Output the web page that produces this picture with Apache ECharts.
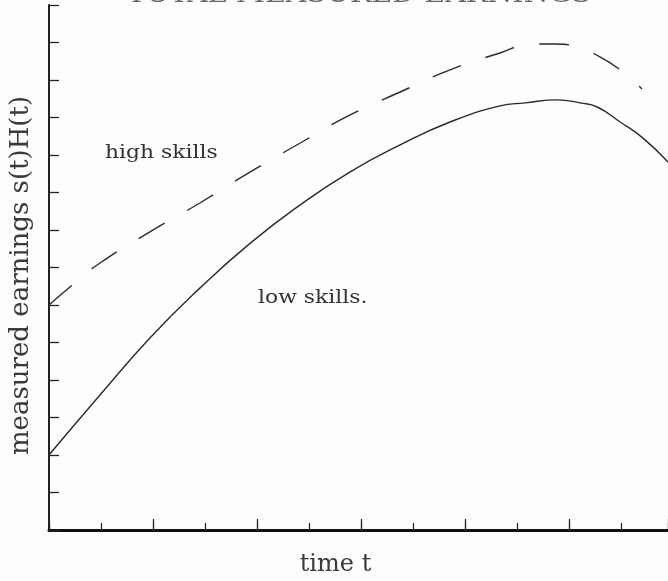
<!DOCTYPE html>
<html>
<head>
<meta charset="utf-8">
<script src="https://cdn.jsdelivr.net/npm/echarts@6/dist/echarts.min.js"></script>
<style>html,body{margin:0;padding:0;background:#fdfdfb;}#c{width:668px;height:581px;}</style>
</head>
<body>
<div id="c"></div>
<script>
// time values (in tick units) and measured earnings (in y-tick units)
var highT = [0, 0.5, 0.98, 1.94, 2.90, 3.87, 4.83, 5.79, 6.75, 7.71, 8.67, 9.29, 9.73, 10.15, 10.56, 10.98, 11.40];
var highSkills = [6.0, 6.59, 7.12, 7.95, 8.72, 9.55, 10.32, 11.07, 11.68, 12.27, 12.72, 12.96, 12.96, 12.88, 12.64, 12.27, 11.76];
var lowT = [0, 0.98, 1.94, 2.90, 3.87, 4.83, 5.79, 6.75, 7.71, 8.67, 9.15, 9.77, 10.21, 10.54, 10.98, 11.42, 11.9];
var lowSkills = [2.0, 3.6, 5.12, 6.45, 7.65, 8.67, 9.55, 10.27, 10.88, 11.31, 11.39, 11.47, 11.39, 11.28, 10.88, 10.45, 9.81];
var titleText = 'TOTAL MEASURED EARNINGS';
var yName = 'measured earnings s(t)H(t)';
var xName = 'time t';
var labelHigh = 'high skills';
var labelLow = 'low skills.';

function pairs(xs, ys) { return xs.map(function (x, i) { return [x, ys[i]]; }); }

var chart = echarts.init(document.getElementById('c'));
var serif = '"DejaVu Serif", "Liberation Serif", serif';
var ink = '#2a2a2a';
chart.setOption({
  backgroundColor: '#fdfdfb',
  animation: false,
  grid: { left: 49, right: 0, top: 5, bottom: 51, containLabel: false, outerBoundsMode: 'none' },
  xAxis: [{
    type: 'value', min: 0, max: 11.9, interval: 1,
    name: xName, nameLocation: 'middle', nameGap: 23,
    nameTextStyle: { fontFamily: serif, fontSize: 24, color: '#3a3a3a', padding: [0, 46, 0, 0] },
    axisLine: { lineStyle: { color: '#111', width: 3 } },
    axisTick: { inside: true, length: 7, lineStyle: { color: '#222', width: 1.2 } },
    axisLabel: { show: false },
    splitLine: { show: false }
  }, {
    type: 'value', min: 0, max: 11.9, interval: 2, position: 'bottom',
    axisLine: { show: false },
    axisTick: { inside: true, length: 11, lineStyle: { color: '#222', width: 1.2 } },
    axisLabel: { show: false },
    splitLine: { show: false }
  }],
  yAxis: {
    type: 'value', min: 0, max: 14, interval: 1,
    name: yName, nameLocation: 'middle', nameGap: 15,
    nameTextStyle: { fontFamily: serif, fontSize: 26, color: '#3a3a3a', padding: [0, 16, 0, 0] },
    axisLine: { lineStyle: { color: '#222', width: 2 } },
    axisTick: { inside: true, length: 10, lineStyle: { color: '#222', width: 1.3 } },
    axisLabel: { show: false },
    splitLine: { show: false }
  },
  series: [{
    type: 'line', name: 'high skills', xAxisIndex: 0, smooth: true, showSymbol: false,
    data: pairs(highT, highSkills),
    lineStyle: { color: ink, width: 1.4, type: [30, 26] }
  }, {
    type: 'line', name: 'low skills', xAxisIndex: 0, smooth: true, showSymbol: false,
    data: pairs(lowT, lowSkills),
    lineStyle: { color: ink, width: 1.4 }
  }],
  graphic: [{
    type: 'text', x: 359, y: 8, scaleX: 1.19,
    style: { text: titleText, font: '24px ' + serif, fill: '#666', textAlign: 'center', textVerticalAlign: 'bottom' }
  }, {
    type: 'text', x: 105, y: 144, scaleX: 1.15,
    style: { text: labelHigh, font: '19px ' + serif, fill: '#333', textAlign: 'left', textVerticalAlign: 'top' }
  }, {
    type: 'text', x: 258, y: 289, scaleX: 1.15,
    style: { text: labelLow, font: '19px ' + serif, fill: '#333', textAlign: 'left', textVerticalAlign: 'top' }
  }]
});
</script>
</body>
</html>
